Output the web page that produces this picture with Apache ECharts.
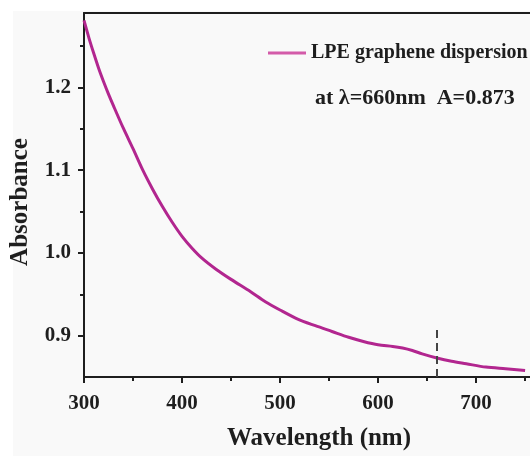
<!DOCTYPE html>
<html>
<head>
<meta charset="utf-8">
<script src="https://cdn.jsdelivr.net/npm/echarts@6/dist/echarts.min.js"></script>
<style>
  html, body { margin: 0; padding: 0; background: #fff; }
  #main { width: 530px; height: 456px; }
</style>
</head>
<body>
<div id="main"></div>
<script>
// UV-vis spectrum
const wavelengths = [300, 305, 310, 315, 320, 325, 330, 340, 350, 360, 370, 380, 390, 400, 410, 420, 435, 450, 470, 485, 500, 518, 536, 553, 570, 585, 600, 615, 625, 635, 645, 660, 675, 690, 710, 730, 750]
const absorbance = [1.281, 1.260, 1.241, 1.223, 1.207, 1.192, 1.178, 1.151, 1.126, 1.100, 1.077, 1.056, 1.037, 1.020, 1.006, 0.994, 0.980, 0.968, 0.953, 0.941, 0.931, 0.920, 0.912, 0.905, 0.898, 0.893, 0.889, 0.887, 0.885, 0.882, 0.878, 0.873, 0.869, 0.866, 0.862, 0.860, 0.858]

const xTickLabels = [300, 400, 500, 600, 700]
const xMinorTicks = [350, 450, 550, 650, 750]
const yTickLabels = [0.9, 1.0, 1.1, 1.2]
const yMinorTicks = [0.95, 1.05, 1.15, 1.25]

const markerWavelength = 660
const markerTop = 0.912
const seriesName = 'LPE graphene dispersion'
const note = 'at \u03bb=660nm  A=0.873'

const font = "'Liberation Serif', 'Times New Roman', serif"
const ink = '#1e1e1e'
const xRange = { min: 300, max: 755 }
const yRange = { min: 0.85, max: 1.29 }

const chart = echarts.init(document.getElementById('main'))

const axisLine = { show: true, lineStyle: { color: ink, width: 2 } }
const hidden = { show: false }

const option = {
  backgroundColor: '#fff',
  animation: false,
  graphic: [
    {
      type: 'rect',
      z: -10,
      silent: true,
      shape: { x: 13, y: 11, width: 517, height: 445 },
      style: { fill: '#f9f9f9' },
    },
  ],
  title: {
    text: note,
    left: 315,
    top: 87,
    padding: 0,
    textStyle: { fontFamily: font, fontWeight: 'bold', fontSize: 22, color: ink },
  },
  legend: {
    left: 268,
    top: 43,
    padding: 0,
    icon: 'rect',
    itemWidth: 38,
    itemHeight: 3,
    itemGap: 5,
    data: [{ name: seriesName, itemStyle: { color: '#d35ba9' } }],
    textStyle: { fontFamily: font, fontWeight: 'bold', fontSize: 20, color: ink },
  },
  grid: {
    left: 84,
    top: 13,
    right: 0,
    bottom: 78,
  },
  xAxis: [
    {
      type: 'value',
      ...xRange,
      position: 'bottom',
      axisLine: axisLine,
      axisTick: { customValues: xTickLabels, length: 6, lineStyle: { color: ink, width: 2 } },
      axisLabel: {
        customValues: xTickLabels,
        margin: 16,
        fontFamily: font,
        fontWeight: 'bold',
        fontSize: 21,
        color: ink,
      },
      splitLine: hidden,
      name: 'Wavelength (nm)',
      nameLocation: 'middle',
      nameGap: 49,
      nameTextStyle: {
        fontFamily: font,
        fontWeight: 'bold',
        fontSize: 25,
        color: ink,
        padding: [0, 0, 0, 24],
      },
    },
    {
      type: 'value',
      ...xRange,
      position: 'bottom',
      axisLine: hidden,
      axisTick: { customValues: xMinorTicks, length: 4, lineStyle: { color: ink, width: 2 } },
      axisLabel: hidden,
      splitLine: hidden,
    },
    {
      type: 'value',
      ...xRange,
      position: 'top',
      axisLine: axisLine,
      axisTick: hidden,
      axisLabel: hidden,
      splitLine: hidden,
    },
  ],
  yAxis: [
    {
      type: 'value',
      ...yRange,
      position: 'left',
      axisLine: axisLine,
      axisTick: { customValues: yTickLabels, length: 6, lineStyle: { color: ink, width: 2 } },
      axisLabel: {
        customValues: yTickLabels,
        formatter: (v) => v.toFixed(1),
        margin: 13,
        fontFamily: font,
        fontWeight: 'bold',
        fontSize: 21,
        color: ink,
      },
      splitLine: hidden,
      name: 'Absorbance',
      nameLocation: 'middle',
      nameGap: 51,
      nameTextStyle: {
        fontFamily: font,
        fontWeight: 'bold',
        fontSize: 25,
        color: ink,
        padding: [0, 14, 0, 0],
      },
    },
    {
      type: 'value',
      ...yRange,
      position: 'left',
      axisLine: hidden,
      axisTick: { customValues: yMinorTicks, length: 4, lineStyle: { color: ink, width: 2 } },
      axisLabel: hidden,
      splitLine: hidden,
    },
  ],
  series: [
    {
      name: seriesName,
      type: 'line',
      xAxisIndex: 0,
      yAxisIndex: 0,
      showSymbol: false,
      smooth: 0.3,
      lineStyle: { color: '#b2268f', width: 3 },
      itemStyle: { color: '#b2268f' },
      data: wavelengths.map((w, i) => [w, absorbance[i]]),
      markLine: {
        silent: true,
        symbol: ['none', 'none'],
        label: { show: false },
        lineStyle: { color: '#444', width: 2, type: [8, 5] },
        data: [[{ coord: [markerWavelength, yRange.min] }, { coord: [markerWavelength, markerTop] }]],
      },
    },
  ],
}

chart.setOption(option)
</script>
</body>
</html>
